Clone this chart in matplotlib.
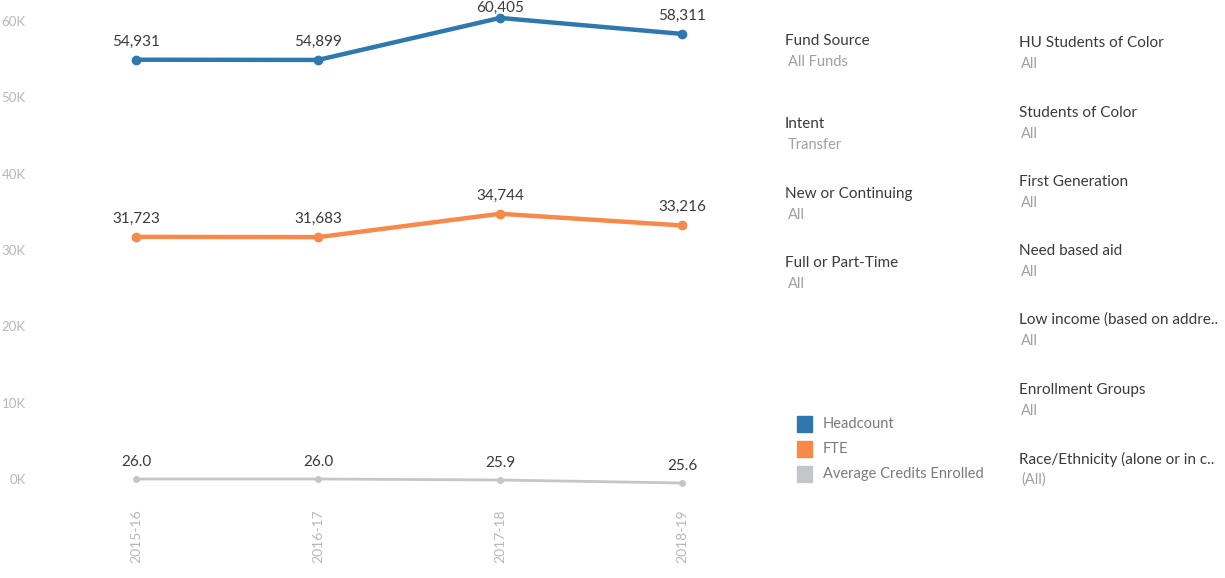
import matplotlib
matplotlib.use("Agg")
import matplotlib.pyplot as plt
from matplotlib.patches import Rectangle

plt.rcParams['font.family'] = ['Lato', 'DejaVu Sans']

years = ["2015-16", "2016-17", "2017-18", "2018-19"]
headcount = [54931, 54899, 60405, 58311]
fte = [31723, 31683, 34744, 33216]
avg_credits = [26.0, 26.0, 25.9, 25.6]
y_ticks = [0, 10000, 20000, 30000, 40000, 50000, 60000]
y_tick_labels = ["0K", "10K", "20K", "30K", "40K", "50K", "60K"]

legend_items = ["Headcount", "FTE", "Average Credits Enrolled"]
filters_col1 = [("Fund Source", "All Funds"), ("Intent", "Transfer"),
                ("New or Continuing", "All"), ("Full or Part-Time", "All")]
filters_col2 = [("HU Students of Color", "All"), ("Students of Color", "All"),
                ("First Generation", "All"), ("Need based aid", "All"),
                ("Low income (based on addre..", "All"), ("Enrollment Groups", "All"),
                ("Race/Ethnicity (alone or in c..", "(All)")]

C_BLUE = "#2f78ad"
C_ORANGE = "#f7894a"
C_GRAY = "#c3c7cb"
TXT = "#3a3a3a"
LIGHT = "#b8b8b8"

W, H = 1225, 578
fig = plt.figure(figsize=(W / 100, H / 100), dpi=100)
fig.patch.set_facecolor("white")

def fx(px):
    return px / W

def fy(py):
    return 1 - py / H

ax_left, ax_right, ax_top, ax_bot = 45, 773, 0, 490
ax = fig.add_axes([fx(ax_left), fy(ax_bot), fx(ax_right - ax_left), (ax_bot - ax_top) / H])
x = list(range(len(years)))
ax.set_xlim(-0.5, 3.5)
ax.set_ylim(-1442, 62753)
top_val = ax.get_ylim()[1]

ax.plot(x, headcount, color=C_BLUE, lw=3.2, marker="o", ms=6, solid_capstyle="round")
ax.plot(x, fte, color=C_ORANGE, lw=3.2, marker="o", ms=6, solid_capstyle="round")

def label_offset(v):
    # keep labels inside the chart near the top edge
    room = (top_val - v) / 131.1  # pixels to top
    return min(8, max(2, (room - 16) * 0.72))

for series in (headcount, fte):
    for xi, v in zip(x, series):
        ax.annotate(f"{v:,}", (xi, v), xytext=(0, label_offset(v)), textcoords="offset points",
                    ha="center", va="bottom", fontsize=11, color=TXT)

ax2 = ax.twinx()
ax2.set_ylim(24.9, 73.9)
ax2.plot(x, avg_credits, color=C_GRAY, lw=2, marker="o", ms=4)
for xi, v in zip(x, avg_credits):
    ax2.annotate(f"{v:.1f}", (xi, v), xytext=(0, 7), textcoords="offset points",
                 ha="center", va="bottom", fontsize=11, color=TXT)
ax2.set_yticks([])

for a in (ax, ax2):
    for s in a.spines.values():
        s.set_visible(False)

ax.set_yticks(y_ticks)
ax.set_yticklabels(y_tick_labels, fontsize=9.5, color=LIGHT)
ax.tick_params(axis="y", length=0, pad=14)
ax.set_xticks(x)
ax.set_xticklabels(years, rotation=90, fontsize=10, color=LIGHT)
ax.tick_params(axis="x", length=0, pad=14)

# Legend
for i, (lab, col) in enumerate(zip(legend_items, [C_BLUE, C_ORANGE, C_GRAY])):
    yc = 424 + i * 25
    fig.patches.append(Rectangle((fx(797), fy(yc + 8)), fx(15), 16 / H,
                                 transform=fig.transFigure, color=col))
    fig.text(fx(823), fy(yc), lab, fontsize=10.5, color="#7a7a7a", va="center", ha="left")

# Filters
col1_y = [41, 124, 194, 263]
for (t, v), yy in zip(filters_col1, col1_y):
    fig.text(fx(785), fy(yy), t, fontsize=11, color=TXT, va="center", ha="left")
    fig.text(fx(788), fy(yy + 21), v, fontsize=10.5, color="#a0a0a0", va="center", ha="left")

col2_y = [43, 113, 182, 251, 320, 390, 459]
for (t, v), yy in zip(filters_col2, col2_y):
    fig.text(fx(1019), fy(yy), t, fontsize=11, color=TXT, va="center", ha="left")
    fig.text(fx(1021), fy(yy + 21), v, fontsize=10.5, color="#a0a0a0", va="center", ha="left")

fig.savefig("out.png", dpi=100, facecolor="white")
